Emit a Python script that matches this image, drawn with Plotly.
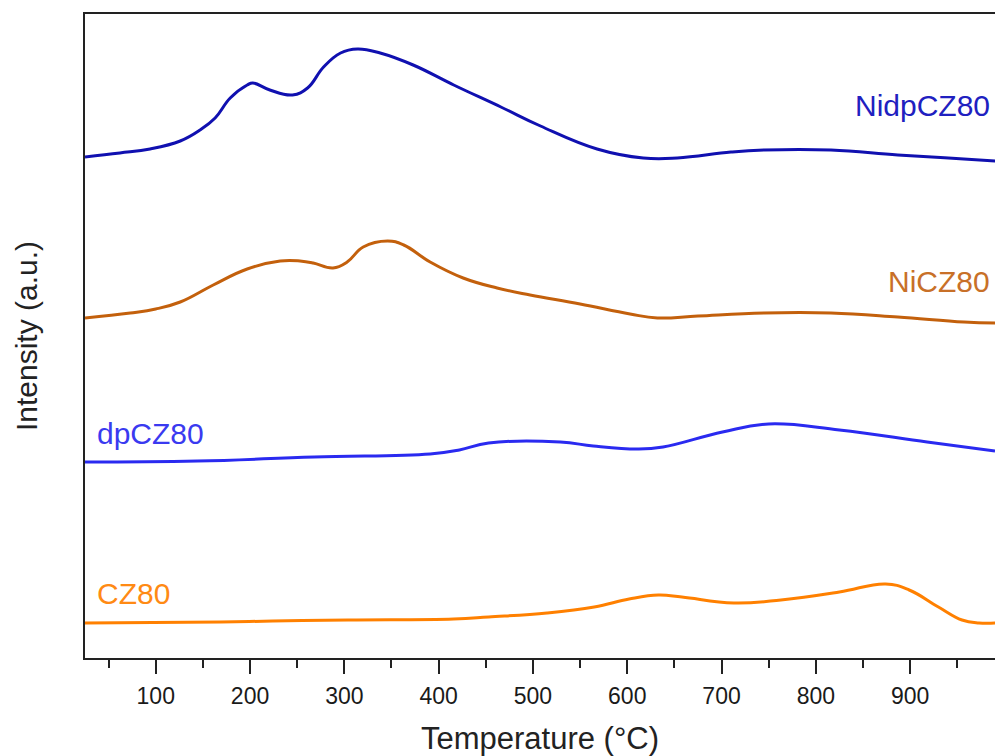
import plotly.graph_objects as go

# Temperature (°C) and intensity (a.u., stacked offsets as in the figure)
t_nidp = [25, 62, 94, 126, 147, 163, 179, 197, 203, 221, 245, 261, 278, 296, 314, 338, 373, 416, 466, 508, 568, 617, 653, 710, 745, 816, 887, 957, 991]
i_nidp = [501, 505, 509, 517, 528, 540, 560, 573, 575, 568, 563, 570, 591, 605, 609, 605, 593, 573, 551, 532, 509, 500, 500, 506, 508, 508, 503, 499, 497]

t_ni = [25, 73, 100, 126, 161, 197, 232, 253, 267, 288, 303, 320, 346, 363, 391, 426, 462, 497, 550, 603, 632, 675, 745, 816, 887, 957, 991]
i_ni = [340, 345, 349, 356, 373, 389, 397, 397, 395, 390, 396, 411, 417, 413, 396, 380, 370, 363, 354, 344, 340, 342, 345, 345, 341, 336, 335]

t_dp = [25, 144, 268, 391, 422, 453, 529, 564, 611, 638, 701, 750, 825, 918, 990]
i_dp = [196, 197, 201, 204, 208, 215, 216, 212, 209, 211, 226, 234, 228, 216, 207]

t_cz = [25, 169, 224, 304, 416, 453, 515, 565, 602, 633, 658, 713, 763, 825, 874, 899, 930, 955, 973, 991]
i_cz = [35, 36, 37, 38, 39, 41, 45, 51, 59, 63, 61, 55, 58, 66, 74, 68, 51, 38, 35, 35]

series = [
    ("NidpCZ80", t_nidp, i_nidp, "#1010b0", "#2020c0"),
    ("NiCZ80", t_ni, i_ni, "#c3600c", "#c87028"),
    ("dpCZ80", t_dp, i_dp, "#2a2af0", "#3a3af0"),
    ("CZ80", t_cz, i_cz, "#ff8000", "#ff8a14"),
]

# label positions (x, y, anchor)
label_pos = {
    "NidpCZ80": (987, 553, "right"),
    "NiCZ80": (987, 377, "right"),
    "dpCZ80": (36, 225, "left"),
    "CZ80": (36, 65, "left"),
}

fig = go.Figure()
for name, t, y, lc, tc in series:
    fig.add_trace(go.Scatter(x=t, y=y, mode="lines", name=name,
                             line=dict(color=lc, width=3, shape="spline", smoothing=1.2),
                             showlegend=False))
    lx, ly, anc = label_pos[name]
    fig.add_annotation(x=lx, y=ly, text=name, showarrow=False, xanchor=anc, yanchor="middle",
                       font=dict(family="Liberation Sans, Arial", size=30, color=tc))

fig.update_layout(
    width=995, height=756,
    margin=dict(l=85, r=0, t=14, b=98),
    paper_bgcolor="white", plot_bgcolor="white",
    font=dict(family="Liberation Sans, Arial", color="#222222"),
    xaxis=dict(
        range=[25, 990], tickmode="linear", tick0=100, dtick=100,
        ticks="outside", ticklen=14, tickwidth=2, tickcolor="#222222",
        showline=True, linecolor="#222222", linewidth=2, mirror=True,
        showgrid=False, zeroline=False,
        tickfont=dict(size=23, color="#1a1a1a"),
        ticklabelstandoff=2,
        minor=dict(ticks="outside", ticklen=8, tickwidth=2, tickcolor="#222222",
                   tick0=50, dtick=100, showgrid=False),
        title=dict(text="Temperature (°C)", font=dict(size=31, color="#222222"), standoff=22),
    ),
    yaxis=dict(
        range=[0, 644], showticklabels=False, ticks="",
        showline=True, linecolor="#222222", linewidth=2,
        showgrid=False, zeroline=False,
        title=dict(text="Intensity (a.u.)", font=dict(size=30, color="#222222"), standoff=37),
    ),
)

fig.write_html("out.html")
